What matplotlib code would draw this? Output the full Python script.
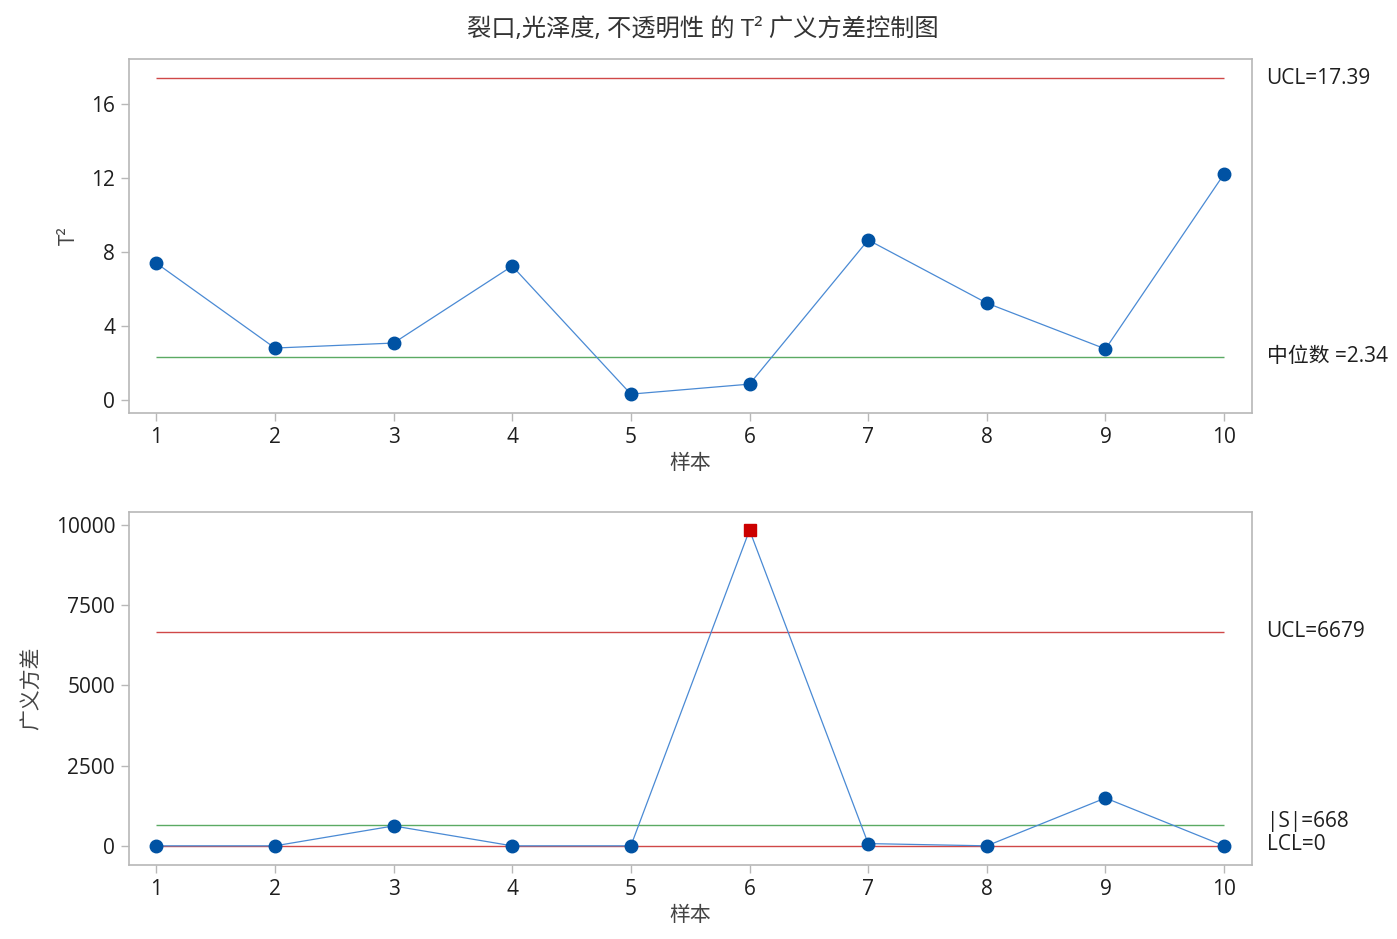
import matplotlib.pyplot as plt
import numpy as np

plt.rcParams['font.family'] = ['Open Sans', 'Noto Sans CJK SC', 'DejaVu Sans']

samples = [1, 2, 3, 4, 5, 6, 7, 8, 9, 10]
t2_values = [7.40, 2.81, 3.08, 7.24, 0.32, 0.86, 8.65, 5.24, 2.76, 12.22]
t2_ucl = 17.39
t2_median = 2.34

gv_values = [5, 5, 625, 5, 5, 9840, 75, 5, 1495, 5]
gv_ucl = 6679
gv_center = 668
gv_lcl = 0
gv_flagged = [6]

title = "裂口,光泽度, 不透明性 的 T² 广义方差控制图"

red = "#D04848"
green = "#5BAA63"
line_blue = "#4A8AD4"
dot_blue = "#0052A3"
spine_gray = "#B8B8B8"
text_col = "#1E1E1E"
fs = 15

fig = plt.figure(figsize=(13.97, 9.39), dpi=100)
W, H = 1397, 939
ax1 = fig.add_axes([129 / W, 1 - 413 / H, (1252 - 129) / W, (413 - 59) / H])
ax2 = fig.add_axes([129 / W, 1 - 865 / H, (1252 - 129) / W, (865 - 512) / H])


def style(ax):
    for s in ax.spines.values():
        s.set_color(spine_gray)
        s.set_linewidth(1.2)
    ax.tick_params(colors=spine_gray, labelcolor=text_col, labelsize=fs,
                   length=6, width=1, direction='out', pad=4)
    ax.set_xticks(samples)
    ax.set_xlim(0.77, 10.235)
    ax.set_xlabel("样本", fontsize=fs, color="#444444", labelpad=4)


# top chart: T2
x = np.array(samples)
ax1.hlines(t2_ucl, 1, 10, color=red, lw=1)
ax1.hlines(t2_median, 1, 10, color=green, lw=1)
ax1.plot(x, t2_values, color=line_blue, lw=0.9, zorder=3)
ax1.plot(x, t2_values, 'o', color=dot_blue, ms=9, zorder=4)
ax1.set_ylim(-0.7, 18.43)
ax1.set_yticks([0, 4, 8, 12, 16])
ax1.set_ylabel("T²", fontsize=fs, color="#444444", labelpad=8)
style(ax1)
ax1.text(1.013, (t2_ucl + 0.7) / 19.13, f"UCL={t2_ucl:.2f}", transform=ax1.transAxes,
         fontsize=fs, color=text_col, va='center')
ax1.text(1.013, (t2_median + 0.7) / 19.13, f"中位数 ={t2_median:.2f}", transform=ax1.transAxes,
         fontsize=fs, color=text_col, va='center')

# bottom chart: generalized variance
ax2.hlines(gv_ucl, 1, 10, color=red, lw=1)
ax2.hlines(gv_center, 1, 10, color=green, lw=1)
ax2.hlines(gv_lcl, 1, 10, color=red, lw=1)
ax2.plot(x, gv_values, color=line_blue, lw=0.9, zorder=3)
ok = [i for i in range(len(samples)) if samples[i] not in gv_flagged]
bad = [i for i in range(len(samples)) if samples[i] in gv_flagged]
ax2.plot(x[ok], np.array(gv_values)[ok], 'o', color=dot_blue, ms=9, zorder=4)
ax2.plot(x[bad], np.array(gv_values)[bad], 's', color="#CC0000", ms=9, zorder=4)
ymin, ymax = -592, 10405
ax2.set_ylim(ymin, ymax)
ax2.set_yticks([0, 2500, 5000, 7500, 10000])
ax2.set_ylabel("广义方差", fontsize=fs, color="#444444", labelpad=9.5)
style(ax2)
rng = ymax - ymin
ax2.text(1.013, (gv_ucl - ymin) / rng, f"UCL={gv_ucl}", transform=ax2.transAxes,
         fontsize=fs, color=text_col, va='center')
ax2.text(1.013, (gv_center - ymin) / rng + 0.01, f"|S|={gv_center}", transform=ax2.transAxes,
         fontsize=fs, color=text_col, va='center')
ax2.text(1.013, (gv_lcl - ymin) / rng + 0.004, f"LCL={gv_lcl}", transform=ax2.transAxes,
         fontsize=fs, color=text_col, va='center')

fig.text(703 / W, 1 - 30 / H, title, ha='center', va='center', fontsize=17.5, color="#333333")

fig.savefig("out.png", dpi=100)
